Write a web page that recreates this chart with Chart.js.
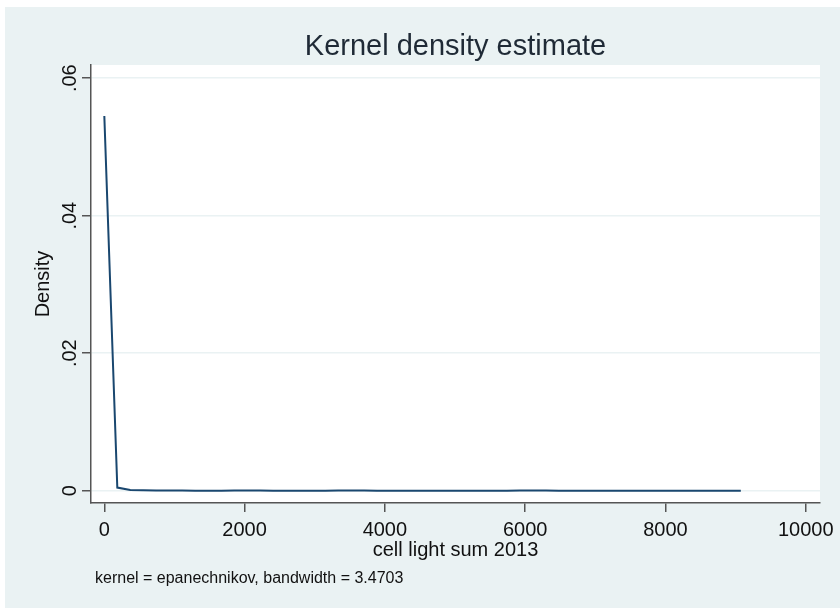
<!DOCTYPE html>
<html lang="en">
<head>
  <meta charset="UTF-8">
  <title>Kernel density estimate</title>
  <script src="https://cdn.jsdelivr.net/npm/chart.js"></script>
  <style>
    html, body { margin: 0; padding: 0; background: #fff; }
    #wrap { width: 840px; height: 608px; }
  </style>
</head>
<body>
  <div id="wrap"><canvas id="grafico" width="840" height="608"></canvas></div>

  <script>
    // evaluation points (cell light sum 2013) and estimated density
    const xPoints = [0, 185, 370, 556, 741, 926, 1111, 1296, 1482, 1667,
      1852, 2037, 2222, 2408, 2593, 2778, 2963, 3148, 3334, 3519,
      3704, 3889, 4074, 4260, 4445, 4630, 4815, 5000, 5186, 5371,
      5556, 5741, 5926, 6112, 6297, 6482, 6667, 6852, 7038, 7223,
      7408, 7593, 7778, 7964, 8149, 8334, 8519, 8704, 8890, 9075];
    const density = [0.0545, 0.00045, 0.00010, 0.00005, 0.00003, 0.00002, 0.00002, 0.00001, 0.00001, 0.00001,
      0.00002, 0.00004, 0.00003, 0.00001, 0.00001, 0.00001, 0.00001, 0.00001, 0.00002, 0.00003,
      0.00002, 0.00001, 0.00001, 0.00001, 0.00001, 0.00001, 0.00001, 0.00001, 0.00001, 0.00001,
      0.00001, 0.00001, 0.00002, 0.00003, 0.00003, 0.00001, 0.00001, 0.00001, 0.00001, 0.00001,
      0.00001, 0.00001, 0.00001, 0.00001, 0.00001, 0.00001, 0.00001, 0.00001, 0.00001, 0.00001];

    const xTicks = [0, 2000, 4000, 6000, 8000, 10000];
    const xTickLabels = ['0', '2000', '4000', '6000', '8000', '10000'];
    const yTicks = [0, 0.02, 0.04, 0.06];
    const yTickLabels = ['0', '.02', '.04', '.06'];

    const titleText = 'Kernel density estimate';
    const xTitle = 'cell light sum 2013';
    const yTitle = 'Density';
    const noteText = 'kernel = epanechnikov, bandwidth = 3.4703';

    const FONT = "'Liberation Sans', Arial, sans-serif";
    const BG = '#eaf2f3';
    const AXIS = '#555555';

    const pageDecor = {
      id: 'pageDecor',
      beforeDraw(chart) {
        const { ctx, chartArea: a } = chart;
        ctx.save();
        ctx.fillStyle = '#ffffff';
        ctx.fillRect(0, 0, chart.width, chart.height);
        ctx.fillStyle = BG;
        ctx.fillRect(5, 7, chart.width - 5, chart.height - 7);
        ctx.fillStyle = '#ffffff';
        ctx.fillRect(a.left, a.top, a.right - a.left, a.bottom - a.top);
        ctx.restore();
      },
      afterDraw(chart) {
        const { ctx, chartArea: a } = chart;
        const y = chart.scales.y;
        ctx.save();
        ctx.fillStyle = '#1f2a36';
        ctx.font = '29px ' + FONT;
        ctx.textAlign = 'center';
        ctx.textBaseline = 'alphabetic';
        ctx.fillText(titleText, (a.left + a.right) / 2, 55);

        // rotated y tick labels
        ctx.fillStyle = '#111';
        ctx.font = '20px ' + FONT;
        yTicks.forEach((v, i) => {
          ctx.save();
          ctx.translate(76, y.getPixelForValue(v));
          ctx.rotate(-Math.PI / 2);
          ctx.fillText(yTickLabels[i], 0, 0);
          ctx.restore();
        });

        ctx.font = '16px ' + FONT;
        ctx.textAlign = 'left';
        ctx.fillText(noteText, 95, 583);
        ctx.restore();
      }
    };

    const ctx = document.getElementById('grafico').getContext('2d');
    const chart = new Chart(ctx, {
      type: 'line',
      data: {
        datasets: [{
          data: xPoints.map((x, i) => ({ x: x, y: density[i] })),
          borderColor: '#1a476f',
          borderWidth: 2,
          pointRadius: 0,
          tension: 0,
          fill: false
        }]
      },
      options: {
        responsive: false,
        animation: false,
        layout: { padding: { left: 0, top: 65, right: 20, bottom: 0 } },
        plugins: {
          legend: { display: false },
          tooltip: { enabled: false }
        },
        scales: {
          x: {
            type: 'linear',
            min: -190,
            max: 10204,
            afterBuildTicks: (s) => { s.ticks = xTicks.map(v => ({ value: v })); },
            afterFit: (s) => { s.height = 105; },
            grid: { drawOnChartArea: false, drawTicks: true, tickLength: 9, tickColor: AXIS, lineWidth: 1.5 },
            border: { color: AXIS, width: 1.5 },
            ticks: {
              color: '#111', font: { family: FONT, size: 20 }, padding: 6, maxRotation: 0,
              callback: (v, i) => xTickLabels[i]
            },
            title: { display: true, text: xTitle, color: '#111', font: { family: FONT, size: 20 }, padding: { top: 0, bottom: 46 } }
          },
          y: {
            type: 'linear',
            min: -0.00179,
            max: 0.06192,
            afterBuildTicks: (s) => { s.ticks = yTicks.map(v => ({ value: v })); },
            afterFit: (s) => { s.width = 91; },
            grid: { color: BG, tickColor: AXIS, tickLength: 9, lineWidth: 1.5 },
            border: { color: AXIS, width: 1.5 },
            ticks: { display: false },
            title: { display: true, text: yTitle, color: '#111', font: { family: FONT, size: 20 }, padding: { top: 31, bottom: 0 } }
          }
        }
      },
      plugins: [pageDecor]
    });
  </script>
</body>
</html>
